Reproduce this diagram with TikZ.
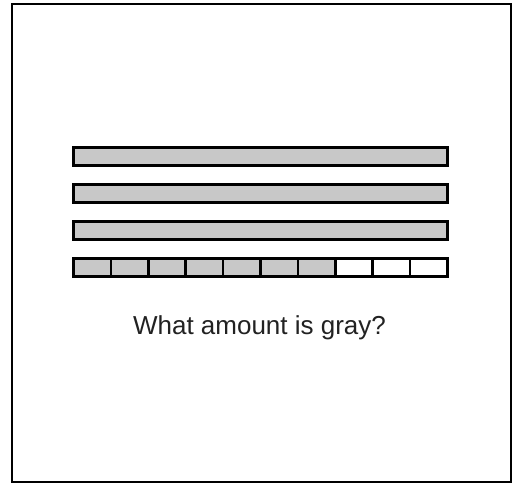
\documentclass[tikz,border=0pt]{standalone}
\usepackage{fontspec}
\setmainfont{Liberation Sans}
\definecolor{barfill}{RGB}{200,200,200}
\definecolor{txt}{RGB}{34,34,34}
\begin{document}
\begin{tikzpicture}[x=1pt,y=-1pt,
  frame/.style={draw=black,line width=2pt},
  bar/.style={draw=black,line width=2.6pt,fill=barfill},
  cellw/.style={draw=black,line width=2.6pt,fill=white},
  cellg/.style={draw=black,line width=2.6pt,fill=barfill}]
\useasboundingbox (0,0) rectangle (516,485);
\fill[white] (0,0) rectangle (516,485);
\draw[frame] (12,4) rectangle (511,482);
\draw[bar] (73.5,147.5) rectangle (447.5,165.5);
\draw[bar] (73.5,184.5) rectangle (447.5,202.5);
\draw[bar] (73.5,221.5) rectangle (447.5,239.5);
\foreach \i in {0,...,9}{
  \pgfmathsetmacro{\xa}{73.5+\i*37.4}
  \pgfmathsetmacro{\xb}{73.5+(\i+1)*37.4}
  \ifnum\i<7
    \draw[cellg] (\xa,258.5) rectangle (\xb,276.5);
  \else
    \draw[cellw] (\xa,258.5) rectangle (\xb,276.5);
  \fi
}
\node[text=txt,font=\fontsize{26}{30}\selectfont,inner sep=0pt,anchor=base] (q) at (259.5,334.5) {What amount is gray?};
\end{tikzpicture}
\end{document}
